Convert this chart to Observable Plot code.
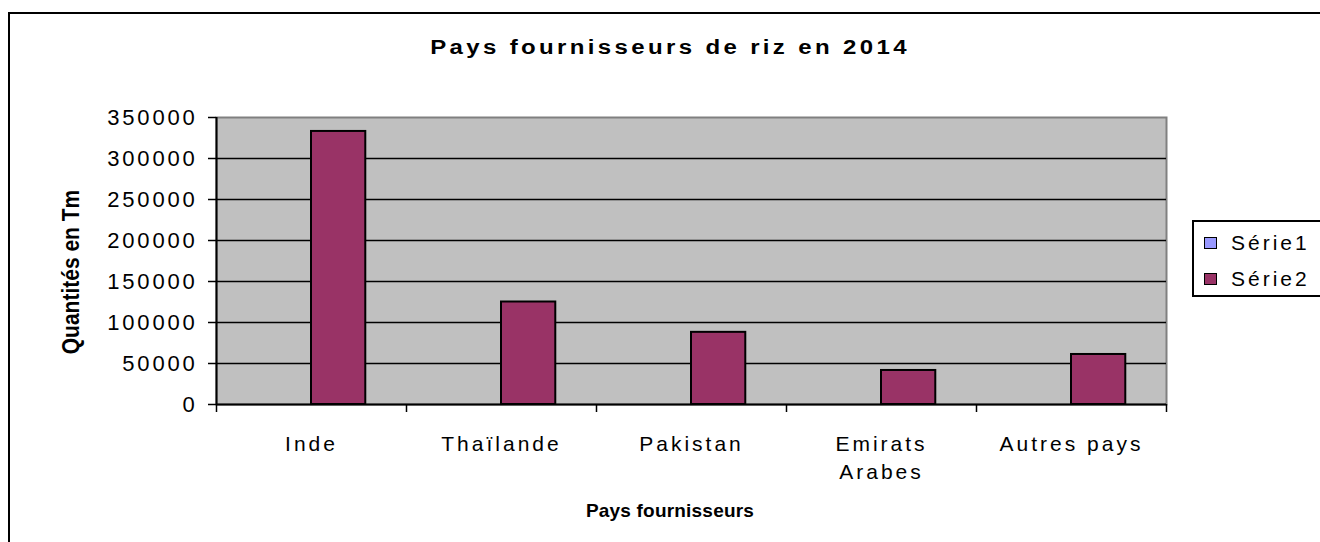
<!DOCTYPE html>
<html>
<head>
<meta charset="utf-8">
<script src="https://cdn.jsdelivr.net/npm/d3@7"></script>
<script src="https://cdn.jsdelivr.net/npm/@observablehq/plot@0.6"></script>
<style>
  html, body { margin: 0; padding: 0; background: #fff; }
  #wrap { position: relative; width: 1320px; height: 542px; overflow: hidden; font-family: "Liberation Sans", Arial, sans-serif; color: #000; }
  #wrap svg { position: absolute; left: 0; top: 0; }
  .border { position: absolute; left: 8px; top: 12px; width: 1400px; height: 700px; border-left: 2px solid #000; border-top: 2px solid #000; }
  .txt { position: absolute; white-space: nowrap; line-height: 1; }
  #title { left: 670px; top: 47px; transform: translate(-50%, -50%) scaleX(1.2); font-weight: bold; font-size: 20px; letter-spacing: 2.8px; }
  #xtitle { left: 670px; top: 510px; transform: translate(-50%, -50%); font-weight: bold; font-size: 19px; letter-spacing: 0.2px; }
  #ytitle { left: 70px; top: 272px; transform: translate(-50%, -50%) rotate(-90deg) scaleY(1.15); font-weight: bold; font-size: 21px; }
  #legend { position: absolute; left: 1192px; top: 220px; width: 160px; height: 77px; border: 2px solid #000; box-sizing: border-box; }
  .lrow { position: absolute; left: 10px; height: 22px; display: flex; align-items: center; font-size: 21px; letter-spacing: 3px; }
  .sw { width: 11px; height: 10px; border: 1.5px solid #000; margin-right: 14px; }
  g[aria-label="y-axis tick label"] { font-size: 22px; letter-spacing: 2.8px; }
</style>
</head>
<body>
<div id="wrap">
  <div class="border"></div>
  <div id="title" class="txt"></div>
  <div id="xtitle" class="txt"></div>
  <div id="ytitle" class="txt"></div>
  <div id="legend"></div>
</div>
<script>
// ---- data ----
const titleText = "Pays fournisseurs de riz en 2014";
const xTitle = "Pays fournisseurs";
const yTitle = "Quantités en Tm";
const categories = ["Inde", "Thaïlande", "Pakistan", "Emirats Arabes", "Autres pays"];
const categoryLabels = ["Inde", "Thaïlande", "Pakistan", "Emirats\nArabes", "Autres pays"];
const seriesNames = ["Série1", "Série2"];
const serie1 = [null, null, null, null, null];
const serie2 = [333000, 125000, 88000, 41500, 61000];
const yTicks = [0, 50000, 100000, 150000, 200000, 250000, 300000, 350000];
const seriesColors = ["#9999FF", "#993366"];

// ---- layout ----
const W = 1320, H = 542;
const mL = 216, mR = 154, mT = 117, mB = 138;
const band = (W - mL - mR) / categories.length;
const step = band / 3.5; // gap 150% Excel style, 2 series

const seriesValues = [serie1, serie2];
const barMarks = seriesValues.map((vals, s) => {
  const rows = categories.map((c, i) => ({pays: c, serie: seriesNames[s], value: vals[i]})).filter(d => d.value != null);
  return Plot.barY(rows, {
    x: "pays", y: "value", fill: "serie", stroke: "#000", strokeWidth: 2,
    insetLeft: step * (0.75 + s), insetRight: band - step * (1.75 + s)
  });
});

const chart = Plot.plot({
  width: W, height: H,
  marginLeft: mL, marginRight: mR, marginTop: mT, marginBottom: mB,
  style: {fontFamily: "'Liberation Sans', Arial, sans-serif", fontSize: "21px", color: "#000", background: "transparent", letterSpacing: "3px"},
  x: {domain: categories, padding: 0, axis: null},
  y: {domain: [0, 350000], axis: null},
  color: {domain: seriesNames, range: seriesColors},
  marks: [
    Plot.frame({fill: "#C0C0C0", stroke: "#808080", strokeWidth: 2}),
    Plot.gridY(yTicks.filter(t => t > 0 && t < 350000), {stroke: "#000", strokeOpacity: 1, strokeWidth: 1.5}),
    ...barMarks,
    Plot.ruleY([0], {stroke: "#000", strokeWidth: 2}),
    Plot.ruleX([categories[0]], {stroke: "#000", strokeWidth: 2, dx: -band / 2}),
    Plot.axisY({ticks: yTicks, tickFormat: "d", tickSize: 8, tickPadding: 11, strokeWidth: 1.5, label: null}),
    Plot.axisX({tickSize: 0, tickPadding: 27, lineHeight: 1.33, label: null,
      tickFormat: d => categoryLabels[categories.indexOf(d)]}),
    Plot.axisX({ticks: categories, tickSize: 8, strokeWidth: 1.5, tickFormat: () => "", label: null, dx: -band / 2}),
    Plot.axisX({ticks: [categories[categories.length - 1]], tickSize: 8, strokeWidth: 1.5, tickFormat: () => "", label: null, dx: band / 2})
  ]
});

const wrap = document.getElementById("wrap");
wrap.insertBefore(chart, wrap.querySelector("#title"));
document.getElementById("title").textContent = titleText;
document.getElementById("xtitle").textContent = xTitle;
document.getElementById("ytitle").textContent = yTitle;

const color = chart.scale("color");
const legend = document.getElementById("legend");
seriesNames.forEach((name, i) => {
  const row = document.createElement("div");
  row.className = "lrow";
  row.style.top = (10 + i * 36) + "px";
  const sw = document.createElement("span");
  sw.className = "sw";
  sw.style.background = color.apply(name);
  const t = document.createElement("span");
  t.textContent = name;
  row.appendChild(sw); row.appendChild(t);
  legend.appendChild(row);
});
</script>
</body>
</html>
